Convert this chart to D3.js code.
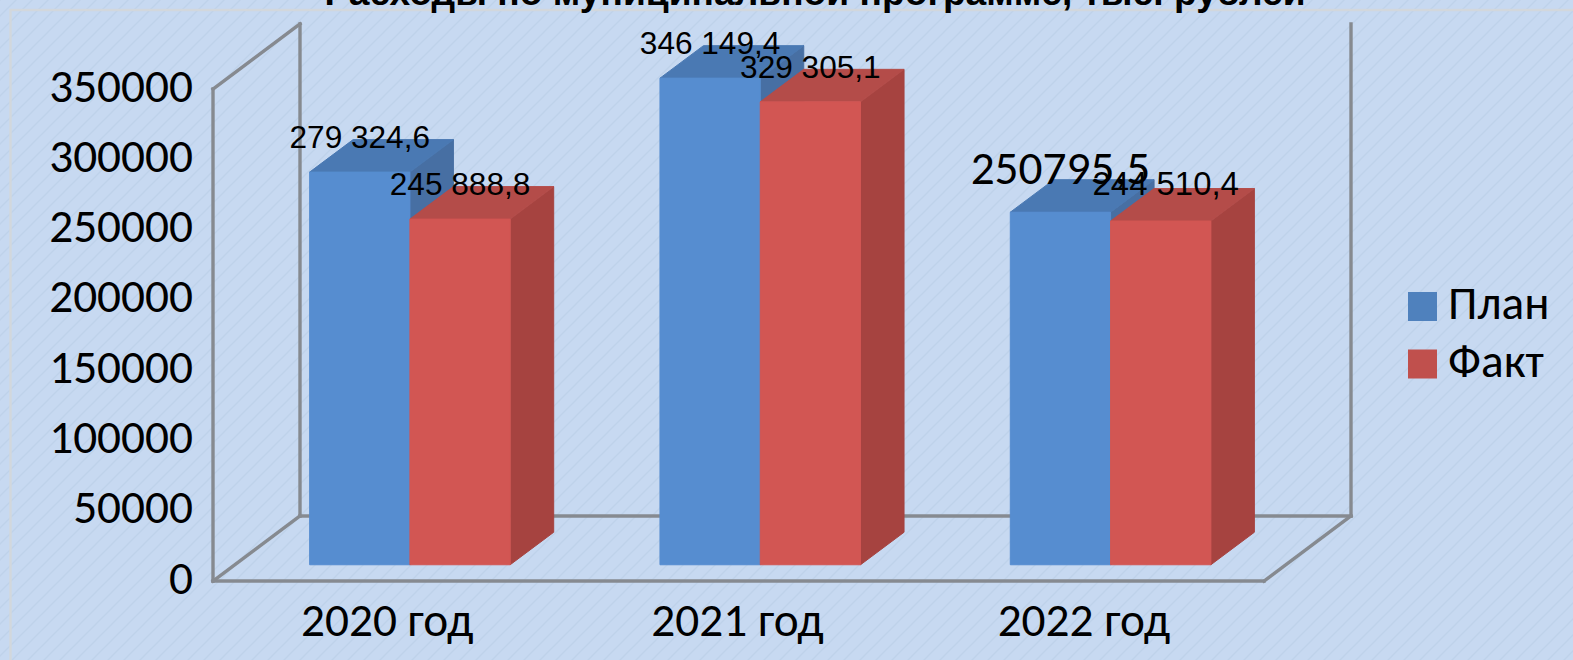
<!DOCTYPE html>
<html><head><meta charset="utf-8">
<script src="https://cdnjs.cloudflare.com/ajax/libs/d3/7.8.5/d3.min.js"></script>
<style>html,body{margin:0;padding:0;overflow:hidden;background:#c6d9f1}svg{display:block}</style>
</head><body><div id="c"></div>
<script>
const titleText = "Расходы по муниципальной программе, тыс. рублей";
const categories = ["2020 год","2021 год","2022 год"];
const seriesNames = ["План","Факт"];
const planValues = [279324.6,346149.4,250795.5];
const factValues = [245888.8,329305.1,244510.4];
const planLabels = ["279 324,6","346 149,4","250795,5"];
const factLabels = ["245 888,8","329 305,1","244 510,4"];
const yTicks = [0,50000,100000,150000,200000,250000,300000,350000];
const frontColors = ["#568dd0","#d25653"];
const topColors = ["#4a79b3","#b44c49"];
const sideColors = ["#476fa3","#a64340"];
const legendColors = ["#4f81bd","#c0504d"];
const W=1573,H=660;
const sansFont="Carlito, Lato, 'Open Sans', sans-serif";
const svg=d3.select("#c").append("svg").attr("width",W).attr("height",H);
const defs=svg.append("defs");
const pat=defs.append("pattern").attr("id","hatch").attr("patternUnits","userSpaceOnUse").attr("width",16).attr("height",16);
pat.append("rect").attr("width",16).attr("height",16).attr("fill","#c7d9f1");
pat.append("path").attr("d","M-4,4L4,-4M0,16L16,0M12,20L20,12").attr("stroke","#bed2ea").attr("stroke-width",1.3);
svg.append("rect").attr("width",W).attr("height",H).attr("fill","url(#hatch)");
svg.append("rect").attr("x",10.5).attr("y",10).attr("width",W+20).attr("height",H+20).attr("fill","none").attr("stroke","#d2d7dc").attr("stroke-width",2.4);

const x0=213,x1=1264,yBase=581,yTop=89,dx=87,dy=-65;
const y=d3.scaleLinear().domain([0,350000]).range([yBase,yTop]);
const xBand=d3.scaleBand().domain(categories).range([x0,x1]).paddingInner(0.4275).paddingOuter(0.21375);
const xSeries=d3.scaleBand().domain(seriesNames).range([0,xBand.bandwidth()]);
const depth=d3.scaleLinear().domain([0,1]).range([0,dx]);
const depthY=d3.scaleLinear().domain([0,1]).range([0,dy]);

// frame
const frame=[[x0,yBase,x0,yTop],[x0,yTop,x0+dx,yTop+dy],[x0+dx,yTop+dy,x0+dx,yBase+dy],[x0,yBase,x0+dx,yBase+dy],[x0+dx,yBase+dy,x1+dx,yBase+dy],[x1+dx,yBase+dy,x1+dx,yTop+dy],[x0,yBase,x1,yBase],[x1,yBase,x1+dx,yBase+dy]];
svg.append("g").selectAll("line").data(frame).join("line")
 .attr("x1",d=>d[0]).attr("y1",d=>d[1]).attr("x2",d=>d[2]).attr("y2",d=>d[3])
 .attr("stroke","#868a90").attr("stroke-width",3.4).attr("stroke-linecap","square");

// bars
const barsData=[];
categories.forEach((c,i)=>{
  barsData.push({c,s:seriesNames[0],v:planValues[i],k:0,label:planLabels[i]});
  barsData.push({c,s:seriesNames[1],v:factValues[i],k:1,label:factLabels[i]});
});
const d0=depth(.25),e0=depthY(.25),d1=depth(.5),e1=depthY(.5);
const bars=svg.append("g").selectAll("g").data(barsData).join("g");
bars.each(function(d){
  const g=d3.select(this);
  const l=xBand(d.c)+xSeries(d.s)+d0, r=l+xSeries.bandwidth();
  const b=y(0)+e0, t=y(d.v)+e0;
  const poly=(pts,f)=>g.append("polygon").attr("points",pts.map(p=>p.join(",")).join(" ")).attr("fill",f).attr("stroke",f).attr("stroke-width",1);
  poly([[r,b],[r+d1,b+e1],[r+d1,t+e1],[r,t]],sideColors[d.k]);
  poly([[l,t],[r,t],[r+d1,t+e1],[l+d1,t+e1]],topColors[d.k]);
  poly([[l,b],[r,b],[r,t],[l,t]],frontColors[d.k]);
});

// axes
const yAxis=d3.axisLeft(y).tickValues(yTicks).tickSize(0).tickPadding(0).tickFormat(d3.format("d"));
const gy=svg.append("g").attr("transform","translate(193,-3)").call(yAxis);
gy.select(".domain").remove();
gy.selectAll("text").attr("font-family",sansFont).attr("font-size",47.3).attr("fill","#000");
const xAxis=d3.axisBottom(xBand).tickSize(0).tickPadding(0);
const gx=svg.append("g").attr("transform","translate(0,602)").call(xAxis);
gx.select(".domain").remove();
gx.selectAll("text").attr("font-family",sansFont).attr("font-size",47.3).attr("fill","#000")
 .attr("dx",(d,i)=>[-1,-1,-5][i]);

// data labels
svg.append("g").selectAll("text").data(barsData).join("text")
 .attr("x",d=>xBand(d.c)+xSeries(d.s)+d0+xSeries.bandwidth()/2+(d.label==="244 510,4"?5:0))
 .attr("y",d=>y(d.v)+e0-(d.label==="250795,5"?45:d.label==="244 510,4"?38:35))
 .attr("dy","0.35em").attr("text-anchor","middle")
 .attr("font-family",d=>d.label==="250795,5"?sansFont:"'Liberation Sans',Arial,sans-serif")
 .attr("font-size",d=>d.label==="250795,5"?47.3:d.label==="244 510,4"?32.9:31.6).attr("fill","#000").text(d=>d.label);

// title
svg.append("text").attr("x",815).attr("y",5).attr("text-anchor","middle")
 .attr("font-family","'Liberation Sans',Arial,sans-serif").attr("font-weight","bold").attr("font-size",37.2).attr("fill","#000").text(titleText);

// legend
const leg=svg.append("g").selectAll("g").data(seriesNames).join("g")
 .attr("transform",(d,i)=>`translate(1408,${292+i*57.5})`);
leg.append("rect").attr("width",29).attr("height",29).attr("fill",(d,i)=>legendColors[i]);
leg.append("text").attr("x",40).attr("y",27).attr("font-family",sansFont).attr("font-size",47.3).attr("fill","#000").text(d=>d);
</script></body></html>
